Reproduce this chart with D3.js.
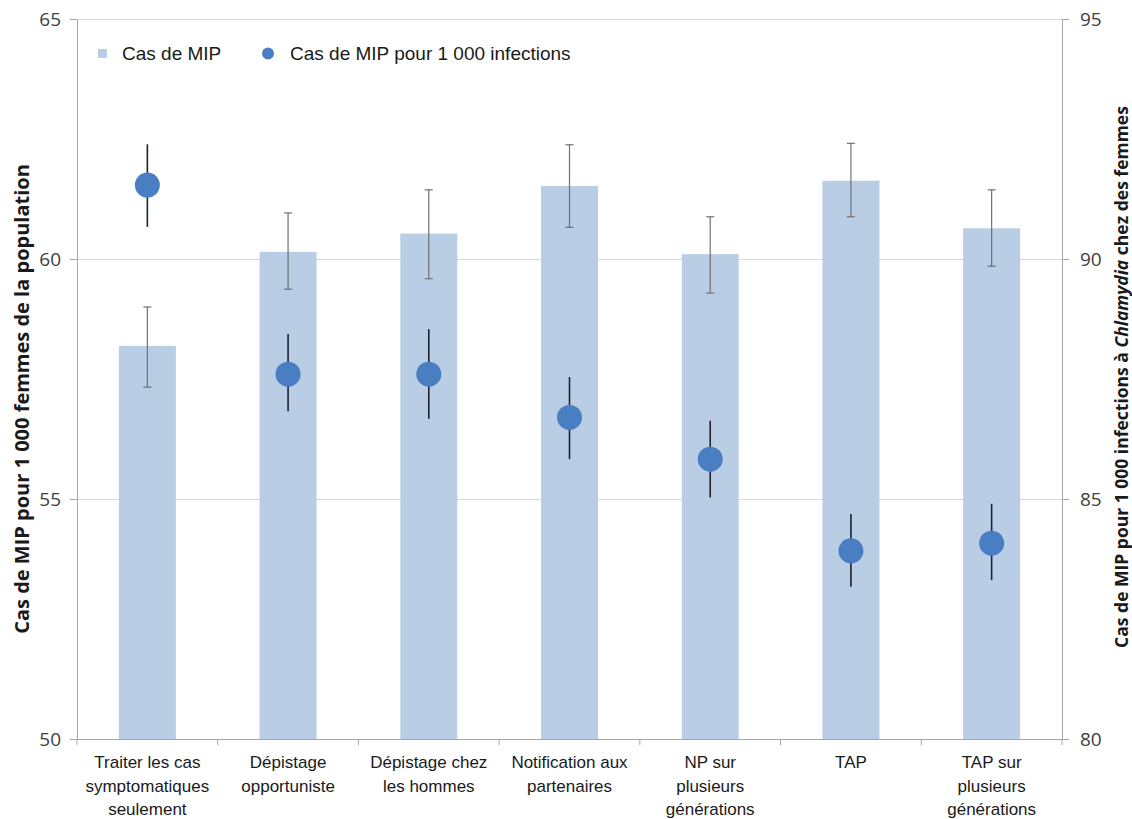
<!DOCTYPE html>
<html>
<head>
<meta charset="utf-8">
<script src="https://cdn.jsdelivr.net/npm/d3@7"></script>
<style>
  body { margin: 0; background: #fff; }
  svg { display: block; }
</style>
</head>
<body>
<svg id="chart" width="1132" height="819"></svg>
<script>
// Data
const categories = [
    ["Traiter les cas", "symptomatiques", "seulement"],
    ["Dépistage", "opportuniste"],
    ["Dépistage chez", "les hommes"],
    ["Notification aux", "partenaires"],
    ["NP sur", "plusieurs", "générations"],
    ["TAP"],
    ["TAP sur", "plusieurs", "générations"]
]
const barValues = [58.19, 60.15, 60.53, 61.52, 60.10, 61.63, 60.64]
const barLow    = [57.33, 59.37, 59.59, 60.66, 59.29, 60.88, 59.85]
const barHigh   = [59.00, 60.96, 61.44, 62.38, 60.88, 62.41, 61.44]
const dotValues = [91.54, 87.60, 87.60, 86.70, 85.83, 83.92, 84.08]
const dotLow    = [90.67, 86.83, 86.67, 85.83, 85.03, 83.17, 83.31]
const dotHigh   = [92.39, 88.44, 88.54, 87.54, 86.63, 84.69, 84.90]
const leftTicks = [50, 55, 60, 65]
const rightTicks = [80, 85, 90, 95]

const margin = { left: 77, top: 19, right: 70, bottom: 80 },
    width = 1132,
    height = 819,
    plotRight = width - margin.right,
    plotBottom = height - margin.bottom

const barColor = "#b9cde4"
const dotColor = "#4a7ec2"
const axisColor = "#a6a6a6"
const labelFont = "'Liberation Sans', Arial, sans-serif"
const numFont = "'Open Sans', 'DejaVu Sans', sans-serif"

const svg = d3.select("#chart")

const idx = d3.range(categories.length)

const x = d3.scaleBand()
    .domain(idx)
    .range([margin.left, plotRight])
    .paddingInner(0.595)
    .paddingOuter(0.2975)

const yL = d3.scaleLinear().domain([50, 65]).range([plotBottom, margin.top])
const yR = d3.scaleLinear().domain([80, 95]).range([plotBottom, margin.top])

// gridlines
svg.append("g")
    .selectAll("line")
    .data(leftTicks.filter(d => d > 50))
    .join("line")
    .attr("x1", margin.left)
    .attr("x2", plotRight)
    .attr("y1", d => yL(d) + 0.5)
    .attr("y2", d => yL(d) + 0.5)
    .attr("stroke", "#d9d9d9")
    .attr("stroke-width", 1)

// bars
svg.append("g")
    .selectAll("rect")
    .data(idx)
    .join("rect")
    .attr("x", i => x(i))
    .attr("y", i => yL(barValues[i]))
    .attr("width", x.bandwidth())
    .attr("height", i => plotBottom - yL(barValues[i]))
    .attr("fill", barColor)

// bar error bars
const barErr = svg.append("g")
    .attr("stroke", "#707070")
    .attr("stroke-width", 1.2)
idx.forEach(i => {
    const cx = x(i) + x.bandwidth() / 2
    barErr.append("line")
        .attr("x1", cx).attr("x2", cx)
        .attr("y1", yL(barHigh[i])).attr("y2", yL(barLow[i]))
    ;[barHigh[i], barLow[i]].forEach(v => {
        barErr.append("line")
            .attr("x1", cx - 4).attr("x2", cx + 4)
            .attr("y1", yL(v)).attr("y2", yL(v))
    })
})

// dot error bars
svg.append("g")
    .selectAll("line")
    .data(idx)
    .join("line")
    .attr("x1", i => x(i) + x.bandwidth() / 2)
    .attr("x2", i => x(i) + x.bandwidth() / 2)
    .attr("y1", i => yR(dotHigh[i]))
    .attr("y2", i => yR(dotLow[i]))
    .attr("stroke", "#1b2333")
    .attr("stroke-width", 1.6)

// dots
svg.append("g")
    .selectAll("circle")
    .data(idx)
    .join("circle")
    .attr("cx", i => x(i) + x.bandwidth() / 2)
    .attr("cy", i => yR(dotValues[i]))
    .attr("r", 12.5)
    .attr("fill", dotColor)

// left axis
const leftAxis = svg.append("g")
    .attr("transform", `translate(${margin.left},0)`)
    .call(d3.axisLeft(yL).tickValues(leftTicks).tickSize(7).tickPadding(9))
leftAxis.select(".domain").attr("stroke", axisColor)
leftAxis.selectAll(".tick line").attr("stroke", axisColor)
leftAxis.selectAll("text")
    .style("font-family", numFont)
    .style("font-size", "19px")
    .attr("fill", "#404040")

// right axis
const rightAxis = svg.append("g")
    .attr("transform", `translate(${plotRight},0)`)
    .call(d3.axisRight(yR).tickValues(rightTicks).tickSize(7).tickPadding(11))
rightAxis.select(".domain").attr("stroke", axisColor)
rightAxis.selectAll(".tick line").attr("stroke", axisColor)
rightAxis.selectAll("text")
    .style("font-family", numFont)
    .style("font-size", "19px")
    .attr("fill", "#404040")

// bottom axis line + ticks between categories
svg.append("line")
    .attr("x1", margin.left).attr("x2", plotRight)
    .attr("y1", plotBottom + 0.5).attr("y2", plotBottom + 0.5)
    .attr("stroke", axisColor)
svg.append("g")
    .selectAll("line")
    .data(d3.range(categories.length + 1))
    .join("line")
    .attr("x1", i => margin.left + i * x.step())
    .attr("x2", i => margin.left + i * x.step())
    .attr("y1", plotBottom)
    .attr("y2", plotBottom + 6)
    .attr("stroke", axisColor)

// category labels
const catLabels = svg.append("g")
    .style("font-family", labelFont)
    .style("font-size", "17px")
    .attr("fill", "#1a1a1a")
    .attr("text-anchor", "middle")
idx.forEach(i => {
    const t = catLabels.append("text")
        .attr("x", x(i) + x.bandwidth() / 2)
        .attr("y", plotBottom + 29)
    categories[i].forEach((line, j) => {
        t.append("tspan")
            .attr("x", x(i) + x.bandwidth() / 2)
            .attr("dy", j === 0 ? 0 : 23.5)
            .text(line)
    })
})

// axis titles
svg.append("text")
    .attr("transform", `translate(29, ${(margin.top + plotBottom) / 2 + 20}) rotate(-90)`)
    .attr("text-anchor", "middle")
    .style("font-family", numFont)
    .style("font-size", "20px")
    .style("font-weight", "bold")
    .attr("fill", "#1a1a1a")
    .text("Cas de MIP pour 1 000 femmes de la population")

const rTitle = svg.append("text")
    .attr("transform", `translate(1128, ${(margin.top + plotBottom) / 2 - 2}) rotate(-90)`)
    .attr("text-anchor", "middle")
    .style("font-family", numFont)
    .style("font-size", "17.5px")
    .style("font-weight", "bold")
    .attr("fill", "#1a1a1a")
rTitle.append("tspan").text("Cas de MIP pour 1 000 infections à ")
rTitle.append("tspan").style("font-style", "italic").text("Chlamydia")
rTitle.append("tspan").text(" chez des femmes")

// legend
const legend = svg.append("g")
    .style("font-family", labelFont)
    .style("font-size", "19px")
    .attr("fill", "#1a1a1a")
legend.append("rect")
    .attr("x", 98).attr("y", 49)
    .attr("width", 9).attr("height", 9)
    .attr("fill", barColor)
legend.append("text")
    .attr("x", 122).attr("y", 60)
    .text("Cas de MIP")
legend.append("circle")
    .attr("cx", 268).attr("cy", 53.5)
    .attr("r", 6)
    .attr("fill", dotColor)
legend.append("text")
    .attr("x", 290).attr("y", 60)
    .text("Cas de MIP pour 1 000 infections")
</script>
</body>
</html>
